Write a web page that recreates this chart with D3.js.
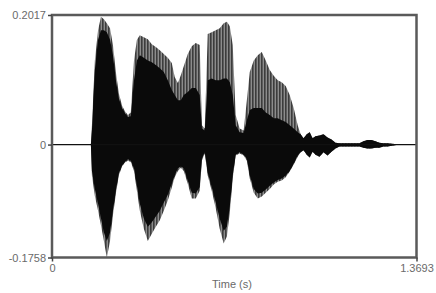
<!DOCTYPE html>
<html>
<head>
<meta charset="utf-8">
<script src="https://cdn.jsdelivr.net/npm/d3@7"></script>
<style>
  html, body { margin: 0; padding: 0; background: #fff; }
  svg { display: block; }
  .axis text { font-family: "Liberation Sans", Arial, sans-serif; font-size: 11px; fill: #6a6a6a; }
  .axis line { stroke: #444; stroke-width: 1.5; }
</style>
</head>
<body>
<script>
// axis limits
const xLimits = [0, 1.3693];
const yLimits = [-0.1758, 0.2017];
const xTicks = [0, 1.3693];
const yTicks = [-0.1758, 0, 0.2017];
const xTitle = "Time (s)";

// waveform envelope (seconds / amplitude)
const times = [0.146,0.150,0.161,0.173,0.184,0.195,0.206,0.218,0.229,0.240,
  0.251,0.263,0.274,0.285,0.296,0.308,0.319,0.330,0.345,0.360,
  0.375,0.390,0.405,0.420,0.435,0.450,0.461,0.473,0.484,0.495,
  0.510,0.525,0.540,0.555,0.563,0.574,0.585,0.600,0.615,0.630,
  0.645,0.657,0.668,0.679,0.690,0.705,0.720,0.732,0.743,0.758,
  0.773,0.788,0.803,0.818,0.833,0.848,0.863,0.878,0.893,0.908,
  0.923,0.934,0.945,0.957,0.968,0.979,0.990,1.005,1.020,1.035,
  1.050,1.065,1.080,1.118,1.155,1.170,1.185,1.200,1.215,1.230,
  1.245,1.260,1.305];

const upper = [0.000,0.030,0.131,0.178,0.199,0.195,0.189,0.181,0.155,0.113,
  0.080,0.061,0.052,0.046,0.050,0.131,0.163,0.170,0.167,0.164,
  0.156,0.152,0.147,0.141,0.135,0.127,0.105,0.096,0.108,0.122,
  0.141,0.153,0.158,0.155,0.030,0.025,0.172,0.175,0.178,0.181,
  0.189,0.191,0.184,0.155,0.046,0.025,0.022,0.069,0.113,0.131,
  0.139,0.144,0.131,0.116,0.107,0.100,0.097,0.091,0.077,0.057,
  0.030,0.016,0.010,0.016,0.019,0.010,0.013,0.014,0.016,0.011,
  0.008,0.003,0.002,0.002,0.002,0.005,0.007,0.007,0.005,0.003,
  0.002,0.002,0.000];

const lower = [0.000,-0.048,-0.080,-0.103,-0.126,-0.150,-0.176,-0.150,-0.110,-0.076,
  -0.048,-0.034,-0.028,-0.025,-0.027,-0.041,-0.072,-0.103,-0.131,-0.150,
  -0.139,-0.128,-0.118,-0.103,-0.087,-0.067,-0.051,-0.041,-0.036,-0.041,
  -0.061,-0.084,-0.084,-0.072,-0.025,-0.014,-0.048,-0.072,-0.099,-0.131,
  -0.154,-0.143,-0.106,-0.053,-0.017,-0.014,-0.017,-0.025,-0.053,-0.075,
  -0.084,-0.081,-0.075,-0.069,-0.062,-0.058,-0.056,-0.051,-0.042,-0.031,
  -0.019,-0.012,-0.009,-0.016,-0.020,-0.011,-0.016,-0.019,-0.012,-0.017,
  -0.011,-0.006,-0.003,-0.003,-0.003,-0.005,-0.006,-0.006,-0.005,-0.005,
  -0.003,-0.003,0.000];

// dense (black) part of the waveform
const coreUpper = [0.000,0.022,0.116,0.163,0.178,0.178,0.175,0.163,0.139,0.100,
  0.072,0.057,0.049,0.043,0.044,0.100,0.131,0.139,0.135,0.131,
  0.128,0.124,0.119,0.113,0.100,0.085,0.077,0.069,0.069,0.077,
  0.082,0.088,0.088,0.077,0.025,0.022,0.100,0.103,0.100,0.100,
  0.103,0.103,0.097,0.077,0.030,0.019,0.018,0.038,0.054,0.057,
  0.057,0.057,0.050,0.046,0.041,0.041,0.038,0.035,0.030,0.025,
  0.019,0.016,0.010,0.016,0.019,0.010,0.013,0.014,0.016,0.011,
  0.008,0.003,0.002,0.002,0.002,0.005,0.007,0.007,0.005,0.003,
  0.002,0.002,0.000];

const coreLower = [0.000,-0.041,-0.069,-0.092,-0.115,-0.137,-0.150,-0.137,-0.103,-0.072,
  -0.045,-0.033,-0.027,-0.023,-0.025,-0.037,-0.064,-0.092,-0.115,-0.128,
  -0.121,-0.112,-0.103,-0.090,-0.078,-0.061,-0.048,-0.037,-0.034,-0.037,
  -0.056,-0.075,-0.076,-0.066,-0.022,-0.012,-0.044,-0.066,-0.090,-0.115,
  -0.134,-0.128,-0.096,-0.048,-0.016,-0.012,-0.016,-0.022,-0.048,-0.069,
  -0.076,-0.075,-0.070,-0.064,-0.059,-0.055,-0.053,-0.048,-0.041,-0.030,
  -0.017,-0.012,-0.009,-0.016,-0.020,-0.011,-0.016,-0.019,-0.012,-0.017,
  -0.011,-0.006,-0.003,-0.003,-0.003,-0.005,-0.006,-0.006,-0.005,-0.005,
  -0.003,-0.003,0.000];

// chart

const w = 436;
const h = 293;
const m = { top: 15, right: 19.5, bottom: 35.5, left: 52 };

const svg = d3.select("body").append("svg")
  .attr("width", w)
  .attr("height", h);

// vertical striping for the sparse (grey) part of the wave
const pat = svg.append("defs").append("pattern")
  .attr("id", "stripes")
  .attr("patternUnits", "userSpaceOnUse")
  .attr("width", 3)
  .attr("height", 10);
pat.append("rect").attr("width", 3).attr("height", 10).attr("fill", "#8c8c8c");
pat.append("rect").attr("width", 1.6).attr("height", 10).attr("fill", "#3c3c3c");

const x = d3.scaleLinear().domain(xLimits).range([m.left, w - m.right]);
const y = d3.scaleLinear().domain(yLimits).range([h - m.bottom, m.top]);

const idx = d3.range(times.length);

// outer envelope, grey
svg.append("path")
  .datum(idx)
  .attr("fill", "url(#stripes)")
  .attr("d", d3.area().x(i => x(times[i])).y0(i => y(lower[i])).y1(i => y(upper[i])));

// dense core, black
svg.append("path")
  .datum(idx)
  .attr("fill", "#0a0a0a")
  .attr("d", d3.area().x(i => x(times[i])).y0(i => y(coreLower[i])).y1(i => y(coreUpper[i])));

// silence line
svg.append("line")
  .attr("x1", x(xLimits[0])).attr("x2", x(xLimits[1]))
  .attr("y1", y(0)).attr("y2", y(0))
  .attr("stroke", "#111")
  .attr("stroke-width", 1.3);

// frame
svg.append("rect")
  .attr("x", x(xLimits[0]))
  .attr("y", y(yLimits[1]))
  .attr("width", x(xLimits[1]) - x(xLimits[0]))
  .attr("height", y(yLimits[0]) - y(yLimits[1]))
  .attr("fill", "none")
  .attr("stroke", "#5a5a5a")
  .attr("stroke-width", 2.5);

const fmt = d => d === 0 ? "0" : d.toFixed(4);

svg.append("g")
  .attr("class", "axis")
  .attr("transform", "translate(" + x(xLimits[0]) + ",0)")
  .call(d3.axisLeft(y).tickValues(yTicks).tickSize(4).tickPadding(2).tickFormat(fmt))
  .select(".domain").remove();

svg.append("g")
  .attr("class", "axis")
  .attr("transform", "translate(0," + y(yLimits[0]) + ")")
  .call(d3.axisBottom(x).tickValues(xTicks).tickSize(4).tickPadding(3).tickFormat(fmt))
  .select(".domain").remove();

svg.append("text")
  .attr("x", 232)
  .attr("y", 288)
  .attr("text-anchor", "middle")
  .style("font-family", "'Liberation Sans', Arial, sans-serif")
  .style("font-size", "11px")
  .style("fill", "#6a6a6a")
  .text(xTitle);
</script>
</body>
</html>
